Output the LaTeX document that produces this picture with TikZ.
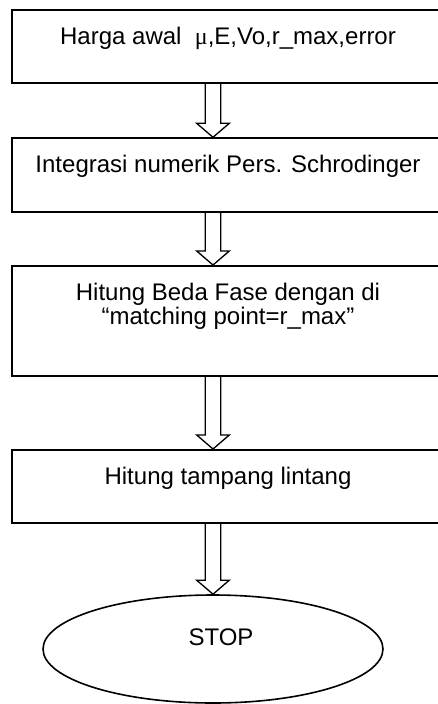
\documentclass[tikz,border=0pt]{standalone}
\usepackage{fontspec}
\setmainfont{Liberation Sans}
\newfontfamily\greekfont{Liberation Serif}
\usepackage{tikz}
\usetikzlibrary{
    shapes.geometric,
    calc
}
\tikzstyle{procbox} = [
    draw,
    line width=1.4pt,
    inner xsep=0pt,
    inner ysep=12.75pt,
    anchor=north,
    font=\fontsize{18pt}{18.3pt}\selectfont
]
\tikzstyle{stopnode} = [
    draw,
    ellipse,
    line width=1.2pt,
    minimum width=255pt,
    minimum height=81pt,
    inner sep=0pt,
    text height=13pt,
    text depth=19pt,
    font=\fontsize{18pt}{18.3pt}\selectfont
]
\tikzstyle{blockarrow} = [
    line width=1pt,
    line join=miter
]
\newcommand{\boxtext}[2]{\parbox[t][#1][t]{324pt}{\centering #2}}
\newcommand{\hollowarrow}[2]{%
    \draw[blockarrow]
        ($(#1.south -| stop.center)+(-7.8,0)$)
        -- ($(#2.north -| stop.center)+(-7.8,-14)$)
        -- ++(-8.5,0)
        -- (#2.north -| stop.center)
        -- ($(#2.north -| stop.center)+(16.3,-14)$)
        -- ++(-8.5,0)
        -- ($(#1.south -| stop.center)+(7.8,0)$);
}

\begin{document}
\begin{tikzpicture}[x=0.75pt, y=-0.75pt]
        \useasboundingbox (0,0) rectangle (438,704);

        % Process steps
        \node[procbox] (init) at (228,9.3) {\boxtext{29.25pt}{Harga awal\ \ {\greekfont μ},E,Vo,r\_max,error}};
        \node[procbox] (integ) at (228,137.3) {\boxtext{29.5pt}{Integrasi numerik Pers. Schrodinger}};
        \node[procbox] (phase) at (228,265) {\boxtext{57pt}{Hitung Beda Fase dengan di\\“matching point=r\_max”}};
        \node[procbox] (cross) at (228,449) {\boxtext{29pt}{Hitung tampang lintang}};

        % End
        \node[stopnode] (stop) at (213,649) {\hspace*{12pt}STOP};

        % Hollow arrows
        \hollowarrow{init}{integ}
        \hollowarrow{integ}{phase}
        \hollowarrow{phase}{cross}
        \hollowarrow{cross}{stop}
    \end{tikzpicture}
\end{document}
